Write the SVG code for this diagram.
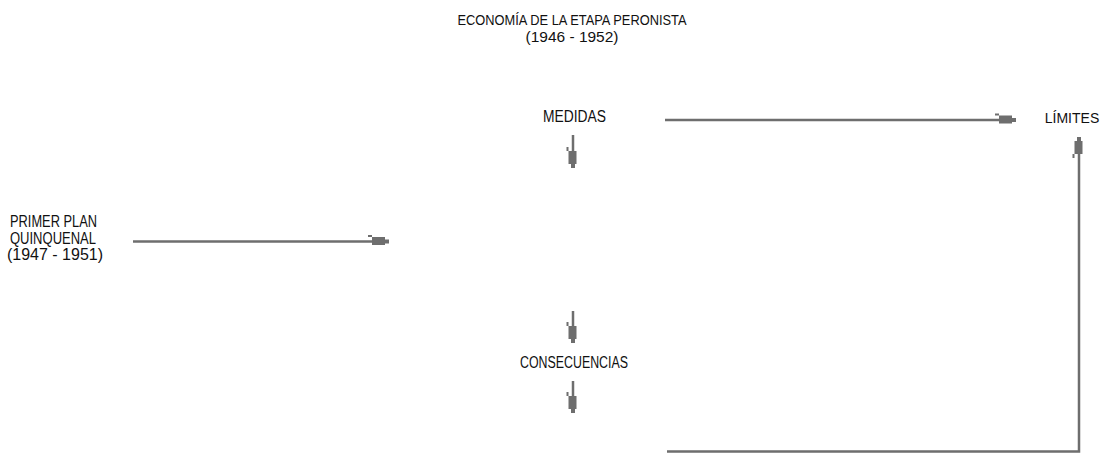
<svg xmlns="http://www.w3.org/2000/svg" width="1108" height="453" viewBox="0 0 1108 453">
<style>
text{font-family:"Liberation Sans",Arial,sans-serif;fill:#111;}
.t{font-size:16px;}
.s{font-size:15px;}
.c{stroke:#6e6e6e;stroke-width:2.5;fill:none;}
.h{fill:#6e6e6e;}
</style>
<defs>
<marker id="ah" markerUnits="userSpaceOnUse" markerWidth="26" markerHeight="16" viewBox="-24 -8 26 16" refX="0" refY="0" orient="auto" overflow="visible">
<path class="h" d="M0,-2 L0,2 L-4,2 L-4,3.5 L-17,3.5 L-17,-4.5 L-4,-4.5 L-4,-2 Z M-21,-6.5 L-17,-6.5 L-17,-4.5 L-21,-4.5 Z"/>
</marker>
<marker id="ad" markerUnits="userSpaceOnUse" markerWidth="26" markerHeight="16" viewBox="-24 -8 26 16" refX="0" refY="0" orient="auto" overflow="visible">
<path class="h" d="M0,-2 L0,2 L-4,2 L-4,4.5 L-17,4.5 L-17,-3.5 L-4,-3.5 L-4,-2 Z M-21,6.5 L-17,6.5 L-17,4.5 L-21,4.5 Z"/>
</marker>
</defs>
<g id="title">
<text class="s" x="572" y="25" text-anchor="middle" textLength="229" lengthAdjust="spacingAndGlyphs">ECONOMÍA DE LA ETAPA PERONISTA</text>
<text class="s" x="572" y="42" text-anchor="middle" textLength="93" lengthAdjust="spacingAndGlyphs">(1946 - 1952)</text>
</g>
<g id="plan">
<text class="t" x="10" y="227" textLength="87" lengthAdjust="spacingAndGlyphs">PRIMER PLAN</text>
<text class="t" x="10" y="244" textLength="86" lengthAdjust="spacingAndGlyphs">QUINQUENAL</text>
<text class="t" x="7" y="260" textLength="96" lengthAdjust="spacingAndGlyphs">(1947 - 1951)</text>
</g>
<g id="medidas">
<text class="t" x="543" y="122" textLength="63" lengthAdjust="spacingAndGlyphs">MEDIDAS</text>
</g>
<g id="limites">
<text x="1072" y="123" text-anchor="middle" style="font-size:14px">LÍMITES</text>
</g>
<g id="consecuencias">
<text class="t" x="520" y="368" textLength="108" lengthAdjust="spacingAndGlyphs">CONSECUENCIAS</text>
</g>
<g id="connectors">
<line class="c" x1="133" y1="241.5" x2="389" y2="241.5" marker-end="url(#ah)"/>
<line class="c" x1="665" y1="120" x2="1016" y2="120" marker-end="url(#ah)"/>
<line class="c" x1="573" y1="135" x2="573" y2="168" marker-end="url(#ad)"/>
<line class="c" x1="573" y1="311" x2="573" y2="343" marker-end="url(#ad)"/>
<line class="c" x1="573" y1="381" x2="573" y2="413" marker-end="url(#ad)"/>
<polyline class="c" points="667,451.5 1079,451.5 1079,137" marker-end="url(#ah)"/>
</g>
</svg>
